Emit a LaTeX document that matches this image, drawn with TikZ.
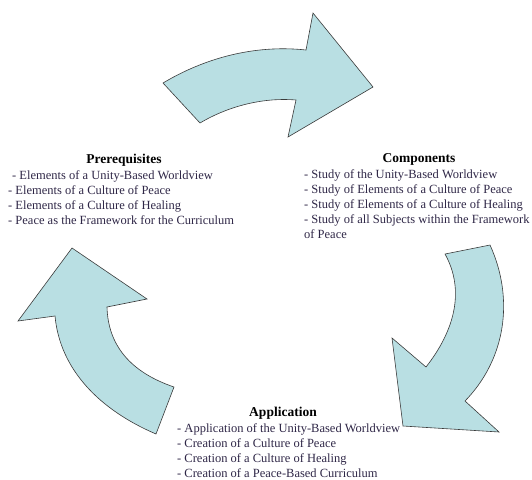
\documentclass[tikz,border=0pt]{standalone}
\usepackage{fontspec}
\setmainfont{Liberation Serif}
\definecolor{arrowfill}{HTML}{B9DFE3}
\definecolor{arrowline}{HTML}{3A3A3A}
\definecolor{bodytext}{HTML}{2E2646}
\begin{document}
\begin{tikzpicture}[x=1pt,y=-1pt,
  cyclearrow/.style={fill=arrowfill,draw=arrowline,line width=0.6pt,line join=miter},
  heading/.style={font=\fontsize{13.5}{15}\selectfont\bfseries,text=black,inner sep=0pt,anchor=center},
  itemlist/.style={font=\fontsize{12.5}{15}\selectfont,text=bodytext,align=left,inner sep=0pt,anchor=north west}]
\useasboundingbox (0,0) rectangle (532,479);
% top arrow
\path[cyclearrow] (163,83) .. controls (210,55) and (260,45) .. (306,50) -- (313,13) -- (373,87) -- (288,137) -- (296,100) .. controls (260,97) and (225,108) .. (200,123) -- cycle;
% right arrow
\path[cyclearrow] (445,254) -- (490,245) .. controls (515,300) and (505,360) .. (465,401) -- (499,432) -- (403,426) -- (392,338) -- (426,367) .. controls (455,330) and (465,290) .. (445,254) -- cycle;
% left arrow
\path[cyclearrow] (72,248) -- (147,299) -- (107,307) .. controls (108,345) and (130,372) .. (174,387) -- (156,434) .. controls (100,410) and (60,370) .. (55,316) -- (18,321) -- cycle;
% texts
\node[heading] (preh) at (124,160) {Prerequisites};
\node[itemlist] (prel) at (8,170) {\hspace*{4pt}- Elements of a Unity-Based Worldview\\- Elements of a Culture of Peace\\- Elements of a Culture of Healing\\- Peace as the Framework for the Curriculum};
\node[heading] (comh) at (419,159) {Components};
\node[itemlist] (coml) at (304,169.5) {- Study of the Unity-Based Worldview\\- Study of Elements of a Culture of Peace\\- Study of Elements of a Culture of Healing\\- Study of all Subjects within the Framework\\of Peace};
\node[heading] (apph) at (283,413) {Application};
\node[itemlist] (appl) at (177,423.5) {- Application of the Unity-Based Worldview\\- Creation of a Culture of Peace\\- Creation of a Culture of Healing\\- Creation of a Peace-Based Curriculum};
\end{tikzpicture}
\end{document}
